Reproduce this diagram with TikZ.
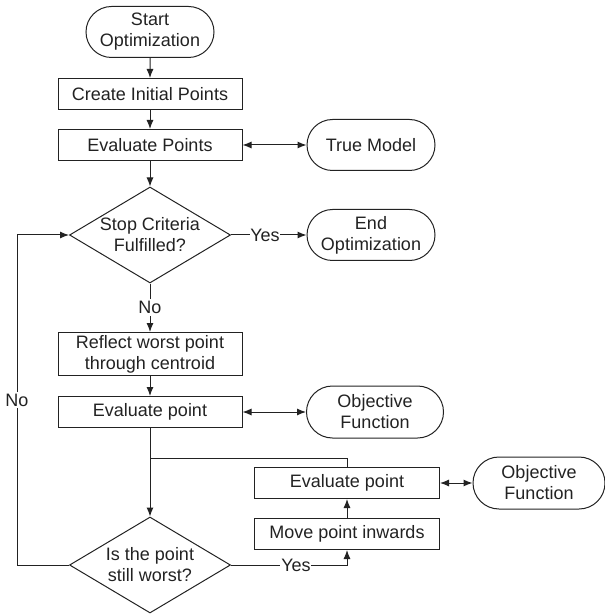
\documentclass[tikz,border=0pt]{standalone}
\usepackage{fontspec}
\setmainfont{Liberation Sans}
\usetikzlibrary{shapes.geometric,shapes.misc,arrows.meta}
\definecolor{ink}{HTML}{222222}
\begin{document}
\begin{tikzpicture}[x=0.5pt,y=-0.5pt,
 every node/.style={font=\fontsize{9}{10.5}\selectfont, align=center, inner sep=0pt, text=ink},
 box/.style={draw=ink, rectangle, minimum width=92pt, minimum height=15.5pt},
 term/.style={draw=ink, rounded rectangle, minimum width=64pt, minimum height=25.5pt},
 dec/.style={draw=ink, diamond, aspect=1.677, minimum width=80.5pt, minimum height=48pt},
 lbl/.style={fill=white, inner xsep=0.4pt, inner ysep=1pt},
 arr/.style={draw=ink, -{Latex[length=4.5pt,width=3.5pt]}},
 darr/.style={draw=ink, {Latex[length=4.5pt,width=3.5pt]}-{Latex[length=4.5pt,width=3.5pt]}},
 line width=0.5pt]
\useasboundingbox (0,0) rectangle (604,614);
\node[term] (start) at (150,32) {Start\\Optimization};
\node[box] (create) at (150,94) {Create Initial Points};
\node[box] (evalp) at (150,145) {Evaluate Points};
\node[term] (true) at (371,145) {True Model};
\node[dec] (stop) at (150,235) {Stop Criteria\\Fulfilled?};
\node[term] (end) at (371,235) {End\\Optimization};
\node[box, minimum height=21.5pt] (reflect) at (150,354) {Reflect worst point\\through centroid};
\node[box] (eval1) at (150,412) {Evaluate point};
\node[term, minimum width=68.5pt, minimum height=26pt] (obj1) at (375,412) {Objective\\Function};
\node[box, minimum width=92.5pt] (eval2) at (347,483) {Evaluate point};
\node[term, minimum width=66pt, minimum height=26pt] (obj2) at (539,483) {Objective\\Function};
\node[box, minimum width=92.5pt] (move) at (347,534) {Move point inwards};
\node[dec] (worst) at (150,565) {Is the point\\still worst?};
\coordinate (j) at (150,458);
\coordinate (nl) at (17,565);
\coordinate (nu) at (17,235);
\draw[arr] (start) -- (create);
\draw[arr] (create) -- (evalp);
\draw[arr] (evalp) -- (stop);
\draw[darr] (evalp) -- (true);
\draw[arr] (stop) -- node[lbl, pos=0.45]{Yes} (end);
\draw[arr] (stop) -- node[lbl]{No} (reflect);
\draw[arr] (reflect) -- (eval1);
\draw[darr] (eval1) -- (obj1);
\draw[arr] (eval1) -- (worst);
\draw[draw=ink] (eval2.north) |- (j);
\draw[darr] (eval2) -- (obj2);
\draw[arr] (move) -- (eval2);
\draw[arr] (worst.east) -| node[lbl, pos=0.28]{Yes} (move.south);
\draw[arr] (worst.west) -- (nl) -- node[lbl]{No} (nu) -- (stop.west);
\end{tikzpicture}
\end{document}
